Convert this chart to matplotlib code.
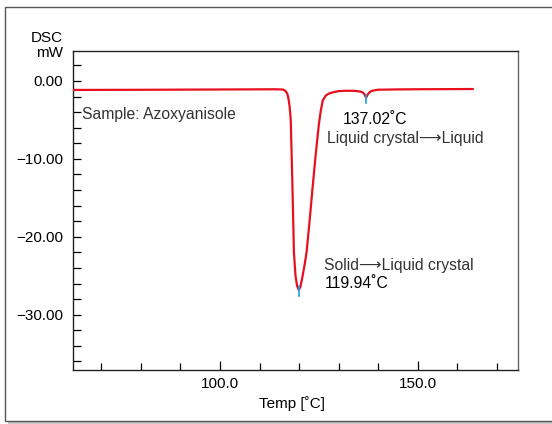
import matplotlib
matplotlib.use("Agg")
import matplotlib.pyplot as plt
from matplotlib.patches import Rectangle
from matplotlib.ticker import MultipleLocator, FixedLocator, FuncFormatter

plt.rcParams['font.family'] = ['Liberation Sans', 'DejaVu Sans']

# DSC curve (temperature in deg C, heat flow in mW)
temp = [62.8, 70, 80, 90, 100, 105, 110, 114, 116, 116.6, 117.0, 117.3, 117.6,
        117.9, 118.3, 118.7, 119.1, 119.5, 119.9, 120.3, 120.8, 121.4, 121.9,
        122.7, 123.4, 124.2, 125.0, 125.5, 126.0, 126.8, 127.6, 128.6, 130.0,
        132.0, 134.0, 135.5, 136.2, 136.6, 136.95, 137.3, 137.7, 138.3, 139.0,
        140.0, 145.0, 150.0, 155.0, 160.0, 164.0]
dsc = [-1.15, -1.14, -1.13, -1.11, -1.09, -1.08, -1.07, -1.06, -1.1, -1.3, -1.6,
       -2.2, -3.2, -5.0, -13.0, -22.0, -25.0, -26.3, -26.8, -26.5, -25.3, -23.6,
       -22.0, -17.8, -13.8, -9.5, -5.6, -3.8, -2.5, -1.85, -1.6, -1.45, -1.3,
       -1.25, -1.27, -1.35, -1.5, -1.75, -2.15, -1.8, -1.5, -1.3, -1.2,
       -1.12, -1.08, -1.06, -1.05, -1.04, -1.03]

peak_temps = [119.94, 137.02]
peak_marker_top = [-26.3, -1.8]
peak_marker_bottom = [-27.6, -2.8]

x_labeled = [100.0, 150.0]
y_labeled = [0.0, -10.0, -20.0, -30.0]

fig = plt.figure(figsize=(5.52, 4.24), dpi=100)

# outer frame with shadow
W, H = 552.0, 424.0
shadow = Rectangle((8 / W, 0.0), 1.2, (424 - 10.3) / H,
                   transform=fig.transFigure, facecolor='#c8c8c8',
                   edgecolor='none', zorder=0)
fig.patches.append(shadow)
frame = Rectangle((5 / W, (424 - 420.7) / H), 1.2, (420.7 - 7.3) / H,
                  transform=fig.transFigure, facecolor='white',
                  edgecolor='#555555', linewidth=1.0, zorder=1)
fig.patches.append(frame)

ax = fig.add_axes([73 / W, 1 - 370 / H, (518 - 73) / W, (370 - 51) / H])
ax.set_zorder(2)
ax.patch.set_facecolor('white')

ax.plot(temp, dsc, color='#e8101e', linewidth=1.6, solid_capstyle='round',
        zorder=3)
for t, y0, y1 in zip(peak_temps, peak_marker_top, peak_marker_bottom):
    ax.plot([t, t], [y0, y1], color='#1aa0e8', linewidth=1.2, zorder=4)

ax.set_xlim(62.8, 175.4)
ax.set_ylim(-37.1, 3.85)

ax.xaxis.set_major_locator(FixedLocator(x_labeled))
ax.xaxis.set_minor_locator(MultipleLocator(10))
ax.yaxis.set_major_locator(FixedLocator(y_labeled))
ax.yaxis.set_minor_locator(MultipleLocator(2))
ax.xaxis.set_major_formatter(FuncFormatter(lambda v, p: f"{v:.1f}"))
ax.yaxis.set_major_formatter(
    FuncFormatter(lambda v, p: (f"{v:.2f}").replace('-', '\u2212')))

ax.tick_params(axis='x', which='major', direction='in', length=6.3,
               width=0.9, pad=5.3, labelsize=11, colors='black')
ax.tick_params(axis='x', which='minor', direction='in', length=5.0, width=0.9)
ax.tick_params(axis='y', which='both', direction='in', length=5.5, width=0.9)
ax.tick_params(axis='y', which='major', pad=7.0, labelsize=11)
for s in ax.spines.values():
    s.set_color('#222222')
    s.set_linewidth(1.0)
ax.spines['right'].set_color('#666666')

fs = 11.3
ax.text(65.0, -4.87, "Sample: Azoxyanisole", fontsize=fs, color='#333333',
        va='baseline', ha='left')
ax.text(131.0, -5.51, "137.02\u02daC", fontsize=fs, color='black',
        va='baseline', ha='left')
ax.text(127.1, -7.95, "Liquid crystal\u27f6Liquid", fontsize=fs,
        color='#333333', va='baseline', ha='left')
ax.text(126.4, -24.32, "Solid\u27f6Liquid crystal", fontsize=fs,
        color='#333333', va='baseline', ha='left')
ax.text(126.4, -26.58, "119.94\u02daC", fontsize=fs, color='black',
        va='baseline', ha='left')

fig.text(63.3 / W, 1 - 41.7 / H, "DSC", fontsize=11, ha='right',
         va='baseline', zorder=5)
fig.text(63.3 / W, 1 - 57.3 / H, "mW", fontsize=11, ha='right',
         va='baseline', zorder=5)
fig.text(292 / W, 1 - 407.7 / H, "Temp [\u02daC]", fontsize=11, ha='center',
         va='baseline', zorder=5)

fig.savefig("out.png", dpi=100)
